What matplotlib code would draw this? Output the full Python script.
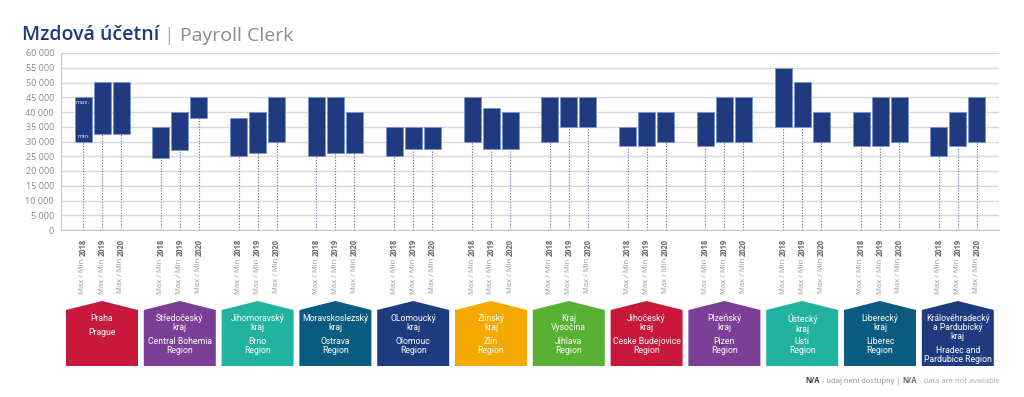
import matplotlib
matplotlib.use("Agg")
import matplotlib.pyplot as plt
from matplotlib.patches import Polygon
from matplotlib.ticker import FuncFormatter, MultipleLocator

# ---- data (CZK / month) ----
REGIONS_CZ = ["Praha", "Středočeský\nkraj", "Jihomoravský\nkraj", "Moravskoslezský\nkraj",
              "OLomoucký\nkraj", "Zlínský\nkraj", "Kraj\nVysočina", "Jihočeský\nkraj",
              "Plzeňský\nkraj", "Ústecký\nkraj", "Liberecký\nkraj",
              "Královéhradecký\na Pardubický\nkraj"]
REGIONS_EN = ["Prague", "Central Bohemia\nRegion", "Brno\nRegion", "Ostrava\nRegion",
              "Olomouc\nRegion", "Zlín\nRegion", "Jihlava\nRegion", "Ceske Budejovice\nRegion",
              "Pizen\nRegion", "Usti\nRegion", "Liberec\nRegion",
              "Hradec and\nPardubice Region"]
YEARS = ["2018", "2019", "2020"]
MAX_2018 = [45000, 35000, 38000, 45000, 35000, 45000, 45000, 35000, 40000, 55000, 40000, 35000]
MIN_2018 = [30000, 24500, 25000, 25000, 25000, 30000, 30000, 28500, 28500, 35000, 28500, 25000]
MAX_2019 = [50000, 40000, 40000, 45000, 35000, 41500, 45000, 40000, 45000, 50000, 45000, 40000]
MIN_2019 = [32500, 27000, 26000, 26000, 27500, 27500, 35000, 28500, 30000, 35000, 28500, 28500]
MAX_2020 = [50000, 45000, 45000, 40000, 35000, 40000, 45000, 40000, 45000, 40000, 45000, 45000]
MIN_2020 = [32500, 38000, 30000, 26000, 27500, 27500, 35000, 30000, 30000, 30000, 30000, 30000]

HOUSE_COLORS = ["#c8193c", "#7b3f96", "#22b3a0", "#0b5a80", "#1f3b80", "#f5a800",
                "#58b132", "#c8193c", "#7b3f96", "#22b3a0", "#0b5a80", "#1f3b80"]

NAVY, BAR_EDGE, GRID, GREY = "#1f3a7e", "#7d96d0", "#d9d9d9", "#8a8a8a"
FONT = "Open Sans"

W, H = 1024, 397
fig = plt.figure(figsize=(W / 100, H / 100), dpi=100)
fig.patch.set_facecolor("white")

# overlay in pixel coordinates for title, labels, houses
ov = fig.add_axes([0, 0, 1, 1])
ov.set_xlim(0, W)
ov.set_ylim(H, 0)
ov.axis("off")

AX_L, AX_R, AX_T, AX_B = 61, 999, 53, 230
ax = fig.add_axes([AX_L / W, 1 - AX_B / H, (AX_R - AX_L) / W, (AX_B - AX_T) / H])
ax.set_xlim(AX_L, AX_R)
ax.set_ylim(0, 60000)
ax.yaxis.set_major_locator(MultipleLocator(5000))
ax.yaxis.set_major_formatter(FuncFormatter(lambda v, _: f"{v:,.0f}".replace(",", " ")))
ax.grid(axis="y", color=GRID, linewidth=1.0)
ax.set_axisbelow(True)
ax.set_xticks([])
for s in ("top", "right"):
    ax.spines[s].set_visible(False)
for s in ("left", "bottom"):
    ax.spines[s].set_color("#c8c8c8")
ax.tick_params(axis="y", length=0, pad=5, labelsize=6.5, labelcolor=GREY)
for lab in ax.get_yticklabels():
    lab.set_family(FONT)

G0, GSTEP, BSTEP, BW = 102, 77.8, 19, 17
maxes = [MAX_2018, MAX_2019, MAX_2020]
mins = [MIN_2018, MIN_2019, MIN_2020]

for g in range(len(REGIONS_CZ)):
    gc = G0 + g * GSTEP
    for j, yr in enumerate(YEARS):
        x = gc + (j - 1) * BSTEP
        lo, hi = mins[j][g], maxes[j][g]
        ax.bar(x, hi - lo, bottom=lo, width=BW, color=NAVY, edgecolor=BAR_EDGE,
               linewidth=0.6, zorder=3)
        ax.plot([x, x], [0, lo], color="#5b6ea8", linestyle=(0, (1, 1.5)),
                linewidth=0.8, zorder=2)
        # rotated x label: bold year on top, "Max / Min" below
        t_year = ov.text(x, 239, yr, rotation=90, ha="center", va="top",
                         fontsize=5.5, fontweight="bold", color="#6a6a6a", family=FONT)
        ov.annotate("Max / Min ", xy=(0.5, 0), xycoords=t_year, rotation=90,
                    ha="center", va="top", fontsize=5.5, color="#9a9a9a", family=FONT)

    # house shape
    hw = 36
    poly = Polygon([(gc - hw, 366), (gc - hw, 310), (gc, 301), (gc + hw, 310),
                    (gc + hw, 366)], closed=True, facecolor=HOUSE_COLORS[g],
                   edgecolor="none")
    ov.add_patch(poly)
    n_cz = REGIONS_CZ[g].count("\n") + 1
    ov.text(gc, 314, REGIONS_CZ[g], ha="center", va="top", color="white",
            fontsize=6.2, family="Roboto", linespacing=1.0)
    ov.text(gc, 314 + n_cz * 9 + 5, REGIONS_EN[g], ha="center", va="top",
            color="white", fontsize=6.2, family="Roboto", linespacing=1.0)

# max./min. hints inside the first bar
x0 = G0 - BSTEP
ax.text(x0 - 7, 42800, "max.", color="#dfe6f5", fontsize=4.5, family=FONT, zorder=4)
ax.text(x0 - 6, 31200, "min.", color="#dfe6f5", fontsize=4.5, family=FONT, zorder=4)

# title
t1 = ov.text(22, 40, "Mzdová účetní", ha="left", va="baseline", fontsize=14,
             color="#1f3a7e", family=FONT, fontweight="semibold")
t2 = ov.annotate(" | ", xy=(1, 0), xycoords=t1, ha="left", va="bottom",
                 fontsize=14, color="#b0b0b0", family=FONT)
ov.annotate("Payroll Clerk", xy=(1, 0), xycoords=t2, ha="left", va="bottom",
            fontsize=14, color="#8c8c8c", family=FONT)

# footnote, chained right to left
f4 = ov.text(1000, 383, " - data are not available", ha="right", va="baseline",
             fontsize=5.5, color="#a8a8a8", family=FONT)
f3 = ov.annotate("N/A", xy=(0, 0), xycoords=f4, ha="right", va="bottom",
                 fontsize=5.5, color="#6a6a6a", fontweight="bold", family=FONT)
f2 = ov.annotate(" - údaj není dostupný | ", xy=(0, 0), xycoords=f3, ha="right",
                 va="bottom", fontsize=5.5, color="#909090", family=FONT)
ov.annotate("N/A", xy=(0, 0), xycoords=f2, ha="right", va="bottom",
            fontsize=5.5, color="#3a3a3a", fontweight="bold", family=FONT)

fig.savefig("out.png", dpi=100, facecolor="white")
